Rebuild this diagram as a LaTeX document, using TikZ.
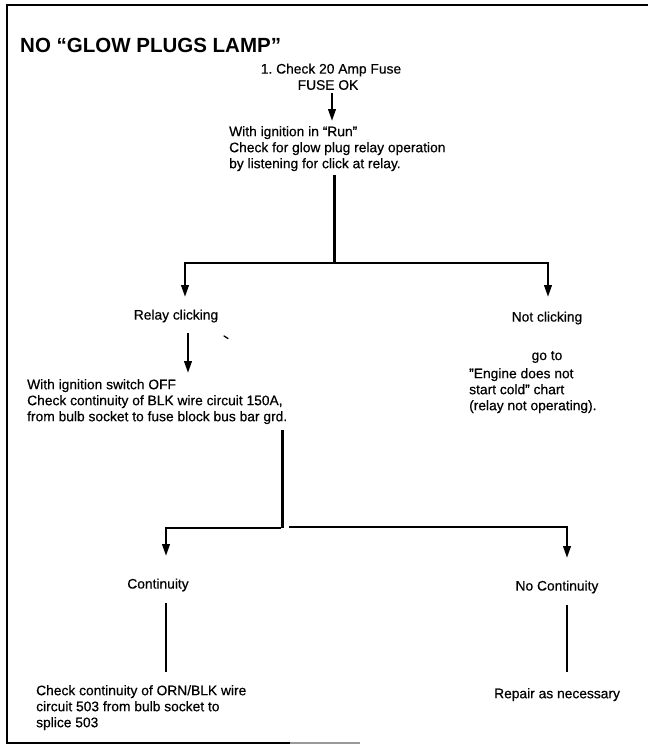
\documentclass[tikz,border=0pt]{standalone}
\usepackage{fontspec}
\setmainfont{Liberation Sans}
% slightly heavier body face, like a well-inked print
\newfontfamily\bodyfont{Liberation Sans}[Ligatures=TeX, FakeBold=0.5]
\usetikzlibrary{arrows.meta}
\begin{document}
\begin{tikzpicture}[x=1pt,y=-1pt,
  txt/.style={inner sep=0pt, font=\bodyfont\fontsize{13.8}{16}\selectfont, align=left},
  flow/.style={line width=3pt, line join=miter},
  arr/.style={line width=2.4pt, line join=miter, -{Triangle[length=12pt,width=7.5pt]}},
  plain/.style={line width=2.2pt},
]
\useasboundingbox (0,0) rectangle (648,745);

% outer frame (top, left, bottom; the bottom rule fades out)
\draw[line width=2.2pt] (648,5) -- (7,5) -- (7,743) -- (290,743);
\draw[line width=1.6pt, black!40] (290,743) -- (360,743);

% heading
\node[anchor=west, inner sep=0pt, font=\fontsize{20.5}{24}\selectfont\bfseries] (title) at (20,45) {NO “GLOW PLUGS LAMP”};

% step 1
\node[txt, anchor=center] (fuse) at (331,70) {1.\ Check 20 Amp Fuse};
\node[txt, anchor=center] (fuseok) at (328,85) {FUSE OK};
\node[txt, anchor=north west] (run) at (229,126) {With ignition in “Run”\\Check for glow plug relay operation\\by listening for click at relay.};

% first branch
\node[txt, anchor=center] (relay) at (176,316) {Relay clicking};
\node[txt, anchor=center] (notclick) at (547,318) {Not clicking};
\node[txt, anchor=center] (goto) at (547,357) {go to};
\node[txt, anchor=north west] (engine) at (469,368) {''Engine does not\\start cold'' chart\\(relay not operating).};
\node[txt, anchor=north west] (offchk) at (27,379) {With ignition switch OFF\\Check continuity of BLK wire circuit 150A,\\from bulb socket to fuse block bus bar grd.};

% second branch
\node[txt, anchor=center] (cont) at (158,585) {Continuity};
\node[txt, anchor=center] (nocont) at (557,587) {No Continuity};
\node[txt, anchor=north west] (orn) at (36,685) {Check continuity of ORN/BLK wire\\circuit 503 from bulb socket to\\splice 503};
\node[txt, anchor=north west] (repair) at (494,688) {Repair as necessary};

% junction and arrow-end points
\coordinate (fuseA) at (332,93);
\coordinate (fuseB) at (332,121);
\coordinate (runA) at (334,175);
\coordinate (j1) at (334,263);
\coordinate (tipL1) at (185,297);
\coordinate (tipR1) at (548,297);
\coordinate (relA) at (188,333);
\coordinate (relB) at (188,373);
\coordinate (offA) at (282,430);
\coordinate (j2) at (282,528);
\coordinate (gapR) at (289,527);
\coordinate (tipL2) at (166,556);
\coordinate (tipR2) at (567,558);
\coordinate (contA) at (166,603);
\coordinate (contB) at (166,672);
\coordinate (nocA) at (567,605);
\coordinate (nocB) at (567,672);

% connectors
\draw[arr] (fuseA) -- (fuseB);
\draw[flow] (runA) -- (j1);
\draw[arr] (j1) -| (tipL1);
\draw[arr] (j1) -| (tipR1);
\draw[arr] (relA) -- (relB);
\draw[flow] (offA) -- (j2);
\draw[arr] ([xshift=-1pt]j2) -| (tipL2);
\draw[arr] (gapR) -| (tipR2);
\draw[plain] (contA) -- (contB);
\draw[plain] (nocA) -- (nocB);

% small stray mark beside the relay text
\draw[line width=1.3pt, line cap=round] (224,336) -- (228,338.5);
\end{tikzpicture}
\end{document}
